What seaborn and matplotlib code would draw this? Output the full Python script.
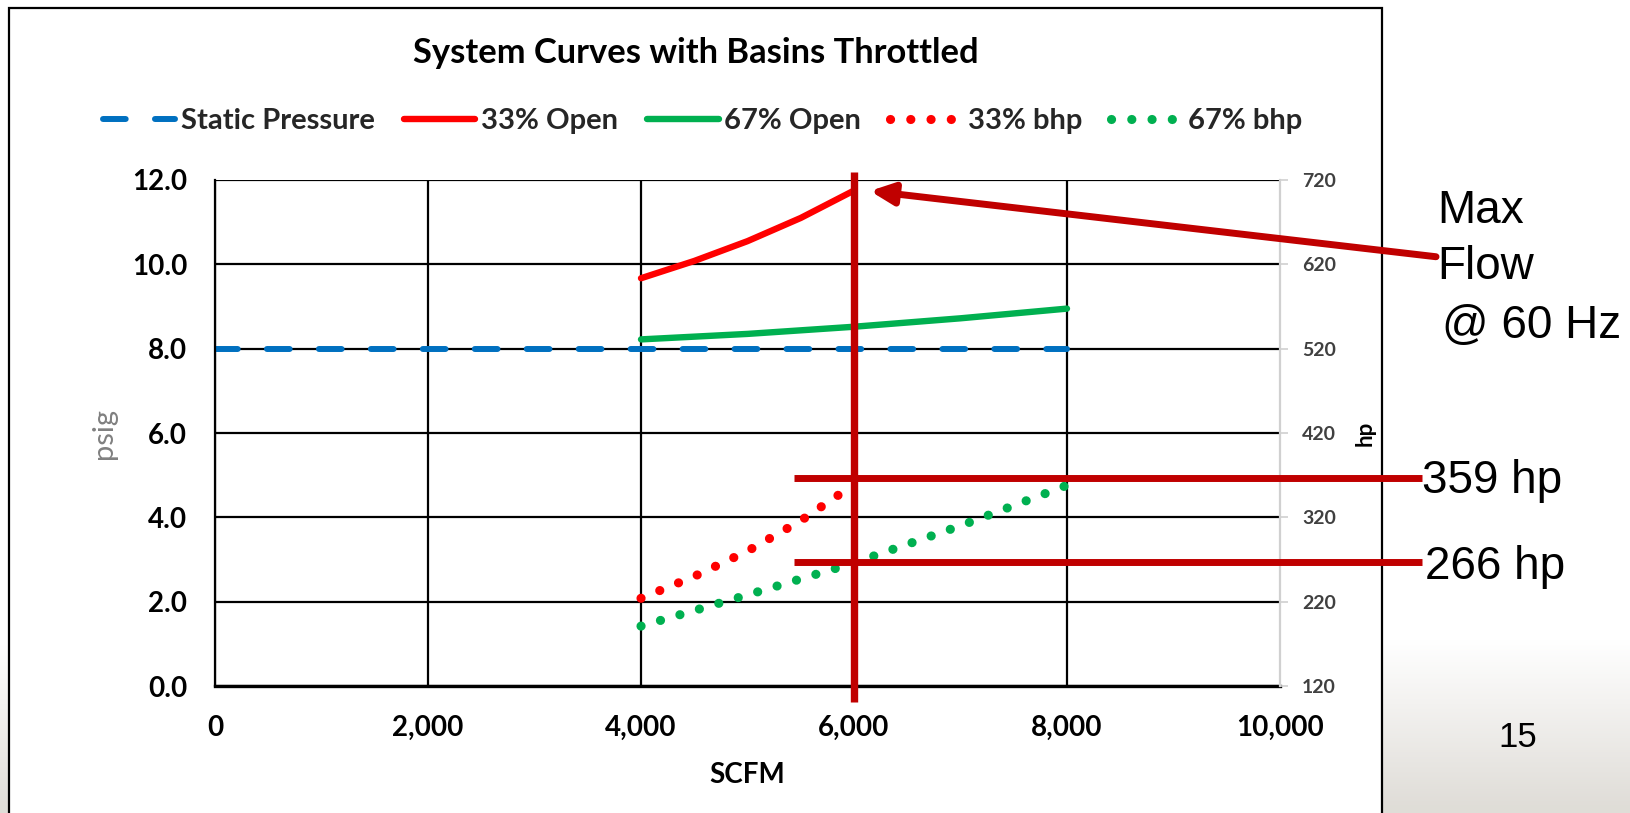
import numpy as np
import pandas as pd
import seaborn as sns
import matplotlib.pyplot as plt
from matplotlib.patches import Rectangle

# ---------------- data ----------------
scfm_static = [0, 2000, 4000, 6000, 8000]
static_psig = [8.0, 8.0, 8.0, 8.0, 8.0]

scfm_33 = [4000, 4500, 5000, 5500, 6000]
open33_psig = [9.67, 10.08, 10.55, 11.10, 11.75]
bhp33 = [224, 250, 280, 316, 359]

scfm_67 = [4000, 5000, 6000, 7000, 8000]
open67_psig = [8.22, 8.35, 8.52, 8.72, 8.95]
bhp67 = [191, 228, 266, 310, 358]

x_ticks = [0, 2000, 4000, 6000, 8000, 10000]
x_tick_labels = ["0", "2,000", "4,000", "6,000", "8,000", "10,000"]
y_ticks = [0, 2, 4, 6, 8, 10, 12]
y_tick_labels = ["0.0", "2.0", "4.0", "6.0", "8.0", "10.0", "12.0"]
hp_ticks = [120, 220, 320, 420, 520, 620, 720]
hp_tick_labels = ["120", "220", "320", "420", "520", "620", "720"]

# slide annotations
max_flow_scfm = 6000
hp_marks = [367, 267]
hp_mark_labels = ["359 hp", "266 hp"]

BLUE = "#0070C0"
RED = "#FF0000"
GREEN = "#00B050"
DARKRED = "#C00000"

sns.set_theme(style="white")
plt.rcParams["font.family"] = ["Lato", "DejaVu Sans"]

W, H = 1631, 813
fig = plt.figure(figsize=(W / 100, H / 100), dpi=100)


def fx(px):
    return px / W


def fy(py):
    return 1 - py / H


# slide background gradient
bg = fig.add_axes([0, 0, 1, 1], zorder=-10)
rows = np.arange(H)
t = np.clip((rows - 640) / (805 - 640), 0, 1)[:, None, None]
white = np.array([1.0, 1.0, 1.0])[None, None, :]
grey = np.array([0.878, 0.867, 0.847])[None, None, :]
grad = white * (1 - t) + grey * t
bg.imshow(grad, aspect="auto", extent=[0, 1, 0, 1])
bg.axis("off")

# chart box
box = Rectangle((fx(9), fy(840)), fx(1382) - fx(9), fy(8) - fy(840),
                transform=fig.transFigure, facecolor="white",
                edgecolor="black", lw=1.6, zorder=-5)
fig.add_artist(box)

# main axes
ax = fig.add_axes([fx(215), fy(686), fx(1280) - fx(215), (686 - 180) / H])
ax.set_facecolor("white")

STATIC_DASH = [3.8, 4.9]
DOTS = [0.01, 2.2]

sns.lineplot(x=scfm_static, y=static_psig, ax=ax, color=BLUE,
             label="Static Pressure")
sns.lineplot(x=scfm_33, y=open33_psig, ax=ax, color=RED, label="33% Open")
sns.lineplot(x=scfm_67, y=open67_psig, ax=ax, color=GREEN, label="67% Open")
for l in ax.lines:
    l.set_linewidth(4.6)
    l.set_solid_capstyle("round")
ln = ax.lines[0]
ln.set_linewidth(4.3)
ln.set_dashes(STATIC_DASH)
ln.set_dash_capstyle("round")

ax.set_xlim(0, 10000)
ax.set_ylim(0, 12)
ax.set_xticks(x_ticks)
ax.set_xticklabels(x_tick_labels, fontsize=20, fontweight="bold", color="black")
ax.set_yticks(y_ticks)
ax.set_yticklabels(y_tick_labels, fontsize=20, fontweight="bold", color="black")
ax.tick_params(axis="y", length=0, pad=20)
ax.tick_params(axis="x", length=0, pad=21)
ax.grid(True, color="black", lw=1.6)
ax.set_axisbelow(True)
ax.xaxis.get_gridlines()[-1].set_visible(False)
for s in ["top", "right"]:
    ax.spines[s].set_visible(False)
ax.spines["left"].set_color("black")
ax.spines["left"].set_linewidth(1.6)
ax.spines["bottom"].set_color("black")
ax.spines["bottom"].set_linewidth(2.4)

ax.set_xlabel("SCFM", fontsize=20, fontweight="bold", color="black")
ax.xaxis.set_label_coords(0.5, (686 - 775) / 506)
ax.xaxis.label.set_va("center")
ax.set_ylabel("psig", fontsize=21, color="#808080")
ax.yaxis.set_label_coords((104 - 215) / 1065, 0.5)
ax.yaxis.label.set_va("center")

# secondary axis
ax2 = ax.twinx()
sns.lineplot(x=scfm_33, y=bhp33, ax=ax2, color=RED, label="33% bhp")
sns.lineplot(x=scfm_67, y=bhp67, ax=ax2, color=GREEN, label="67% bhp")
for l in ax2.lines:
    l.set_linewidth(6.6)
    l.set_dashes(DOTS)
    l.set_dash_capstyle("round")
ax2.set_ylim(120, 720)
ax2.set_yticks(hp_ticks)
ax2.set_yticklabels(hp_tick_labels, fontsize=14, fontweight="bold", color="#404040")
ax2.tick_params(axis="y", direction="out", length=6, width=1.2,
                color="#D0D0D0", pad=10, right=True)
for s in ["top", "left", "bottom"]:
    ax2.spines[s].set_visible(False)
ax2.spines["right"].set_color("#D0D0D0")
ax2.spines["right"].set_linewidth(1.6)
ax2.set_ylabel("hp", fontsize=16, fontweight="bold", color="black", rotation=90)
ax2.yaxis.set_label_coords((1365 - 215) / 1065, 0.5)
ax2.yaxis.label.set_va("center")

# legend
h1, l1 = ax.get_legend_handles_labels()
h2, l2 = ax2.get_legend_handles_labels()
for a in (ax, ax2):
    if a.get_legend() is not None:
        a.get_legend().remove()
leg = fig.legend(h1 + h2, l1 + l2, loc="center", bbox_to_anchor=(fx(703), fy(121)),
                 ncol=5, frameon=False, prop={"weight": "bold", "size": 21},
                 handlelength=2.45, handletextpad=0.2, columnspacing=1.0)
for lh, src in zip(leg.get_lines(), ax.lines[:3] + ax2.lines[:2]):
    lh.set_linewidth(src.get_linewidth())
    lh.set_linestyle(src.get_linestyle())
    lh.set_dash_capstyle("round")
    lh.set_solid_capstyle("round")
leg.get_lines()[0].set_dashes(STATIC_DASH)
for lh in leg.get_lines()[3:]:
    lh.set_dashes(DOTS)

# title
fig.text(fx(696), fy(53), "System Curves with Basins Throttled", ha="center",
         va="center", fontsize=24.8, fontweight="bold", color="black")

# slide annotations (drawn on the hp axis)
ax2.plot([max_flow_scfm, max_flow_scfm], [730, 101], color=DARKRED, lw=5.3,
         clip_on=False, zorder=10, solid_capstyle="butt")
for hv in hp_marks:
    ax2.plot([5437, 11333], [hv, hv], color=DARKRED, lw=5.0, clip_on=False,
             zorder=10, solid_capstyle="butt")
ax2.annotate("", xy=(6150, 707), xytext=(11465, 629), xycoords="data",
             annotation_clip=False,
             arrowprops=dict(arrowstyle="-|>,head_length=1.4,head_width=0.65",
                             color=DARKRED, lw=5, shrinkA=0, shrinkB=0,
                             mutation_scale=10))

afont = dict(family=["Liberation Sans", "DejaVu Sans"], color="black")
fig.text(fx(1437), fy(222.7), "Max", fontsize=33, va="baseline", ha="left", **afont)
fig.text(fx(1437), fy(279.3), "Flow", fontsize=33, va="baseline", ha="left", **afont)
fig.text(fx(1442), fy(338.3), "@ 60 Hz", fontsize=33, va="baseline", ha="left", **afont)
fig.text(fx(1422), fy(493.3), hp_mark_labels[0], fontsize=33, va="baseline", ha="left", **afont)
fig.text(fx(1425), fy(579), hp_mark_labels[1], fontsize=33, va="baseline", ha="left", **afont)
fig.text(fx(1518), fy(747.3), "15", fontsize=25, va="baseline", ha="center", **afont)

fig.savefig("out.png", dpi=100)
